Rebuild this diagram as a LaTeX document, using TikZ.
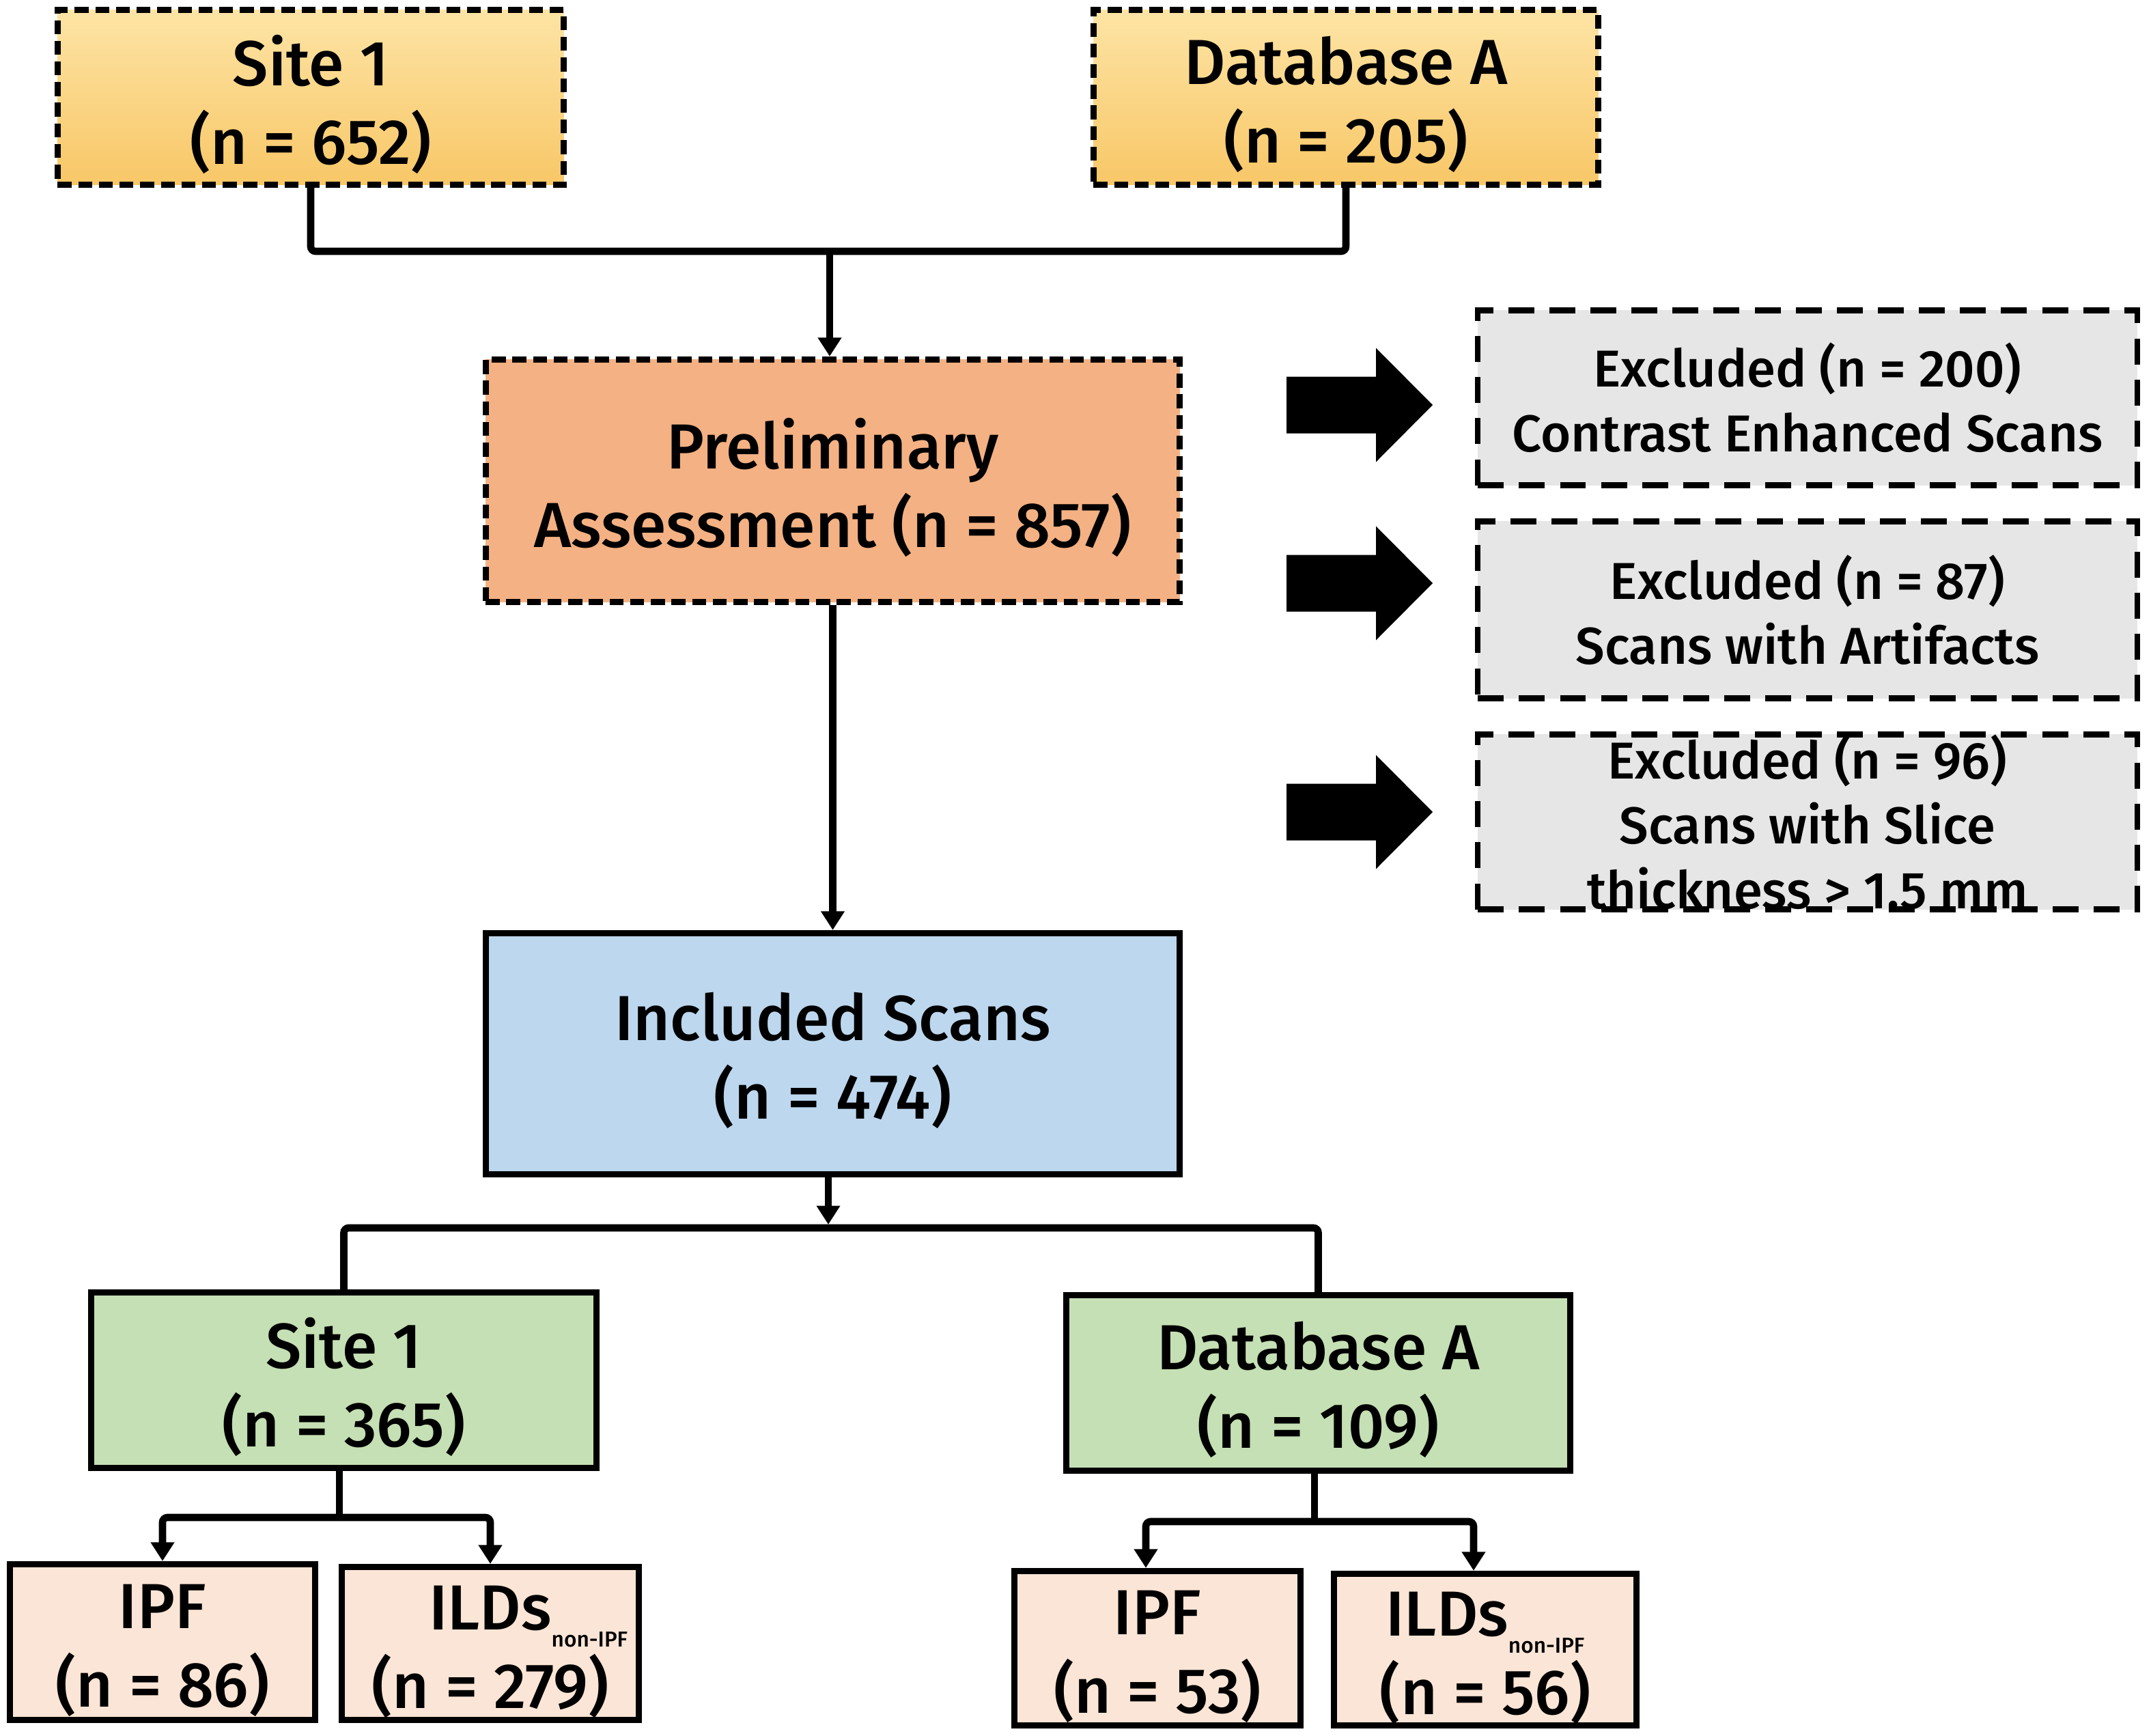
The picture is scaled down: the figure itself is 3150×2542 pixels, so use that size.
\documentclass[tikz,border=0pt]{standalone}
\usepackage{fontspec}
\setmainfont{Fira Sans}[UprightFont=* Medium]
\usetikzlibrary{arrows.meta}
\definecolor{ylwtop}{HTML}{FDE4A5}
\definecolor{ylwbot}{HTML}{F8C767}
\definecolor{prelimc}{HTML}{F4B183}
\definecolor{inclc}{HTML}{BDD7EE}
\definecolor{greenc}{HTML}{C5E0B4}
\definecolor{peachc}{HTML}{FBE5D6}
\definecolor{grayc}{HTML}{E7E6E6}
\tikzset{
  maintext/.style={font=\fontsize{26.5}{32.7}\selectfont, align=center, inner sep=0pt},
  extext/.style={font=\fontsize{21.6}{27}\selectfont, align=center, inner sep=0pt},
  ybox/.style={draw=black, line width=2.6pt, dash pattern=on 5.8pt off 2.8pt, top color=ylwtop, bottom color=ylwbot},
  pbox/.style={draw=black, line width=2.6pt, dash pattern=on 5.8pt off 2.8pt, fill=prelimc},
  ibox/.style={draw=black, line width=2.6pt, fill=inclc},
  gbox/.style={draw=black, line width=2.6pt, fill=greenc},
  kbox/.style={draw=black, line width=2.6pt, fill=peachc},
  xbox/.style={extext, draw=black, line width=2.4pt, dash pattern=on 10.8pt off 6.3pt, fill=grayc},
  conn/.style={line width=3pt, rounded corners=2pt},
  arr/.style={line width=3pt, -{Triangle[width=9.4pt,length=7.8pt]}},
}
\newcommand{\subnon}{{\fontsize{9}{10}\selectfont\raisebox{-0.25cm}{non-IPF}}}
\begin{document}
\begin{tikzpicture}[x=0.01cm, y=-0.01cm]
\useasboundingbox (0,0) rectangle (3150,2542);
% top sources
\node[ybox, minimum width=7.41cm, minimum height=2.56cm] (s1top) at (455,142.5) {};
\node[maintext] (s1topt) at ([yshift=-0.1cm]s1top.center) {Site 1\\(n = 652)};
\node[ybox, minimum width=7.39cm, minimum height=2.56cm] (dbtop) at (1971,142.5) {};
\node[maintext] (dbtopt) at ([yshift=-0.1cm]dbtop.center) {Database A\\(n = 205)};
% preliminary
\node[pbox, minimum width=10.16cm, minimum height=3.55cm] (prelim) at (1219.5,704) {};
\node[maintext] (prelimt) at ([yshift=-0.1cm]prelim.center) {Preliminary\\Assessment (n = 857)};
% included
\node[ibox, minimum width=10.16cm, minimum height=3.53cm] (incl) at (1219.5,1543) {};
\node[maintext] (inclt) at ([yshift=-0.1cm]incl.center) {Included Scans\\(n = 474)};
% split
\node[gbox, minimum width=7.40cm, minimum height=2.57cm] (s1bot) at (503.5,2021) {};
\node[maintext] (s1bott) at ([yshift=-0.1cm]s1bot.center) {Site 1\\(n = 365)};
\node[gbox, minimum width=7.38cm, minimum height=2.57cm] (dbbot) at (1930.5,2025) {};
\node[maintext] (dbbott) at ([yshift=-0.1cm]dbbot.center) {Database A\\(n = 109)};
% leaves
\node[kbox, minimum width=4.47cm, minimum height=2.28cm] (ipf1) at (238,2404.5) {};
\node[maintext] (ipf1t) at ([yshift=-0.12cm]ipf1.center) {IPF\\(n = 86)};
\node[kbox, minimum width=4.35cm, minimum height=2.24cm] (ild1) at (718,2406.5) {};
\node[maintext] (ild1t) at ([yshift=-0.12cm]ild1.center) {ILDs\rlap{\subnon}\\(n = 279)};
\node[kbox, minimum width=4.19cm, minimum height=2.26cm] (ipf2) at (1695,2413.5) {};
\node[maintext] (ipf2t) at ([yshift=-0.12cm]ipf2.center) {IPF\\(n = 53)};
\node[kbox, minimum width=4.43cm, minimum height=2.22cm] (ild2) at (2175,2415.5) {};
\node[maintext] (ild2t) at ([yshift=-0.12cm]ild2.center) {ILDs\subnon\\(n = 56)};
% excluded
\node[xbox, minimum width=9.65cm, minimum height=2.56cm] (ex1) at (2647,582.5) {Excluded (n = 200)\\Contrast Enhanced Scans};
\node[xbox, minimum width=9.65cm, minimum height=2.59cm] (ex2) at (2647,893) {Excluded (n = 87)\\Scans with Artifacts};
\node[xbox, minimum width=9.65cm, minimum height=2.56cm] (ex3) at (2647,1203.5) {Excluded (n = 96)\\Scans with Slice\\thickness > 1.5 mm};
% block arrows
\foreach \cy in {593,854,1189}{
  \fill[black, shift={(0,\cy)}] (1884,-41.5) -- (2015,-41.5) -- (2015,-83.5) -- (2098,0) -- (2015,83.5) -- (2015,41.5) -- (1884,41.5) -- cycle;
}
% connectors
\coordinate (topbus) at (1215,368);
\draw[conn] (s1top.south) |- (topbus) -| (dbtop.south);
\draw[arr] (topbus) -- (topbus |- prelim.north);
\draw[arr] (prelim.south) -- (incl.north);
\coordinate (midbus) at (1213,1798);
\draw[arr] (incl.south -| midbus) -- ([yshift=0.05cm]midbus);
\draw[conn] (s1bot.north) |- (midbus) -| (dbbot.north);
\coordinate (bus1) at (497,2222);
\draw[line width=3pt] (s1bot.south -| bus1) -- (bus1);
\draw[arr, rounded corners=2pt] (bus1) -| (ipf1.north);
\draw[arr, rounded corners=2pt] (bus1) -| (ild1.north);
\coordinate (bus2) at (1925,2228);
\draw[line width=3pt] (dbbot.south -| bus2) -- (bus2);
\draw[arr, rounded corners=2pt] (bus2) -| ([xshift=-0.17cm]ipf2.north);
\draw[arr, rounded corners=2pt] (bus2) -| ([xshift=-0.17cm]ild2.north);
\end{tikzpicture}
\end{document}
